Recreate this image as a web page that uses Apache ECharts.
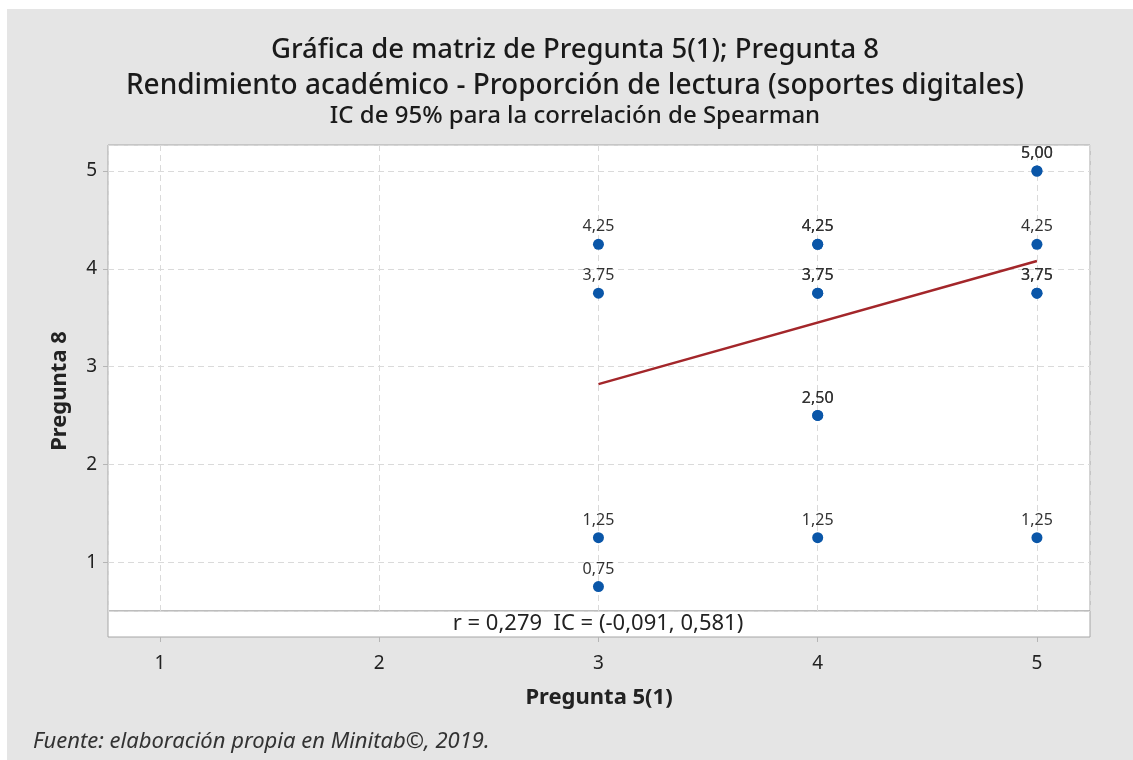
<!DOCTYPE html>
<html>
<head>
<meta charset="utf-8">
<script src="https://cdn.jsdelivr.net/npm/echarts@6/dist/echarts.min.js"></script>
<style>
  body { margin: 0; background: #fff; }
  #chart { position: absolute; left: 7px; top: 9px; width: 1126px; height: 751px; background: #e5e5e5; }
</style>
</head>
<body>
<div id="chart"></div>
<script>
// observations; repeated pairs overdraw, which is why some labels look bold
var pregunta5 = [3, 3, 3, 3, 4, 4, 4, 4, 4, 4, 4, 5, 5, 5, 5, 5, 5]
var pregunta8 = [4.25, 3.75, 1.25, 0.75, 4.25, 4.25, 3.75, 3.75, 2.5, 2.5, 1.25, 5, 5, 4.25, 3.75, 3.75, 1.25]

// fitted line
var fitX = [3, 5]
var fitY = [2.82, 4.08]

var xTicks = [1, 2, 3, 4, 5]
var yTicks = [1, 2, 3, 4, 5]

var titleLines = [
  'Gráfica de matriz de Pregunta 5(1); Pregunta 8',
  'Rendimiento académico - Proporción de lectura (soportes digitales)',
  'IC de 95% para la correlación de Spearman'
]
var statsText = 'r = 0,279  IC = (-0,091, 0,581)'
var sourceText = 'Fuente: elaboración propia en Minitab©, 2019.'

var FONT = '"Noto Sans", "Open Sans", sans-serif'

function fmt (v) {
  return v.toFixed(2).replace('.', ',')
}

var points = pregunta5.map(function (x, i) { return [x, pregunta8[i]] })
var fitLine = fitX.map(function (x, i) { return [x, fitY[i]] })

var myChart = echarts.init(document.getElementById('chart'))

var option = {
  animation: false,
  textStyle: { fontFamily: FONT },
  graphic: [
    {
      type: 'text', x: 568, y: 41,
      style: { text: titleLines[0], font: '500 27.5px ' + FONT, fill: '#1a1a1a', align: 'center', verticalAlign: 'middle' }
    },
    {
      type: 'text', x: 568, y: 77,
      style: { text: titleLines[1], font: '500 28px ' + FONT, fill: '#1a1a1a', align: 'center', verticalAlign: 'middle' }
    },
    {
      type: 'text', x: 568, y: 107,
      style: { text: titleLines[2], font: '500 24px ' + FONT, fill: '#1a1a1a', align: 'center', verticalAlign: 'middle' }
    },
    {
      type: 'text', x: 53, y: 382, rotation: Math.PI / 2,
      style: { text: 'Pregunta 8', font: 'bold 22px ' + FONT, fill: '#222', align: 'center', verticalAlign: 'middle' }
    },
    {
      type: 'text', x: 591, y: 615,
      style: { text: statsText, font: '22px ' + FONT, fill: '#222', align: 'center', verticalAlign: 'middle' },
      z: 100
    },
    {
      type: 'text', x: 26, y: 733,
      style: { text: sourceText, font: 'italic 22px ' + FONT, fill: '#333', verticalAlign: 'middle' }
    }
  ],
  grid: [
    {
      left: 101, top: 136, width: 982, height: 466,
      show: true, backgroundColor: '#fff', borderColor: '#a6a6a6', borderWidth: 1
    },
    {
      left: 101, top: 602, width: 982, height: 26,
      show: true, backgroundColor: '#fff', borderColor: '#a6a6a6', borderWidth: 1
    }
  ],
  xAxis: [
    {
      gridIndex: 0, type: 'value', min: 0.763, max: 5.242,
      axisLine: { show: false },
      axisTick: { show: false },
      axisLabel: { show: false },
      splitLine: { lineStyle: { color: '#dadada', type: [6, 4] } }
    },
    {
      gridIndex: 1, type: 'value', min: 0.763, max: 5.242,
      name: 'Pregunta 5(1)', nameLocation: 'middle', nameGap: 50,
      nameTextStyle: { fontSize: 22, fontWeight: 'bold', color: '#222', fontFamily: FONT },
      axisLine: { show: false },
      axisTick: { inside: false, length: 5, lineStyle: { color: '#b5b5b5' } },
      axisLabel: {
        fontSize: 19, color: '#222', margin: 17,
        showMinLabel: false, showMaxLabel: false,
        formatter: function (v) { return xTicks.indexOf(v) >= 0 ? String(v) : '' }
      },
      splitLine: { show: false }
    }
  ],
  yAxis: [
    {
      gridIndex: 0, type: 'value', min: 0.5, max: 5.266,
      axisLine: { show: false },
      axisTick: { inside: false, length: 5, lineStyle: { color: '#b5b5b5' } },
      axisLabel: {
        fontSize: 19, color: '#222', margin: 11,
        showMinLabel: false, showMaxLabel: false,
        formatter: function (v) { return yTicks.indexOf(v) >= 0 ? String(v) : '' }
      },
      splitLine: { lineStyle: { color: '#dadada', type: [6, 4] } }
    },
    {
      gridIndex: 1, type: 'value', min: 0, max: 1, show: false
    }
  ],
  series: [
    {
      name: 'Ajuste',
      type: 'line',
      xAxisIndex: 0, yAxisIndex: 0,
      data: fitLine,
      symbol: 'none',
      lineStyle: { color: '#a3262a', width: 2.5 },
      z: 2
    },
    {
      name: 'Pregunta 8',
      type: 'scatter',
      xAxisIndex: 0, yAxisIndex: 0,
      data: points,
      symbolSize: 11,
      itemStyle: { color: '#0a56a8', opacity: 1 },
      label: {
        show: true, position: 'top', distance: 4,
        fontSize: 16, color: '#333', fontFamily: FONT,
        formatter: function (p) { return fmt(p.value[1]) }
      },
      labelLayout: { hideOverlap: false },
      z: 3
    }
  ]
}

myChart.setOption(option)
</script>
</body>
</html>
